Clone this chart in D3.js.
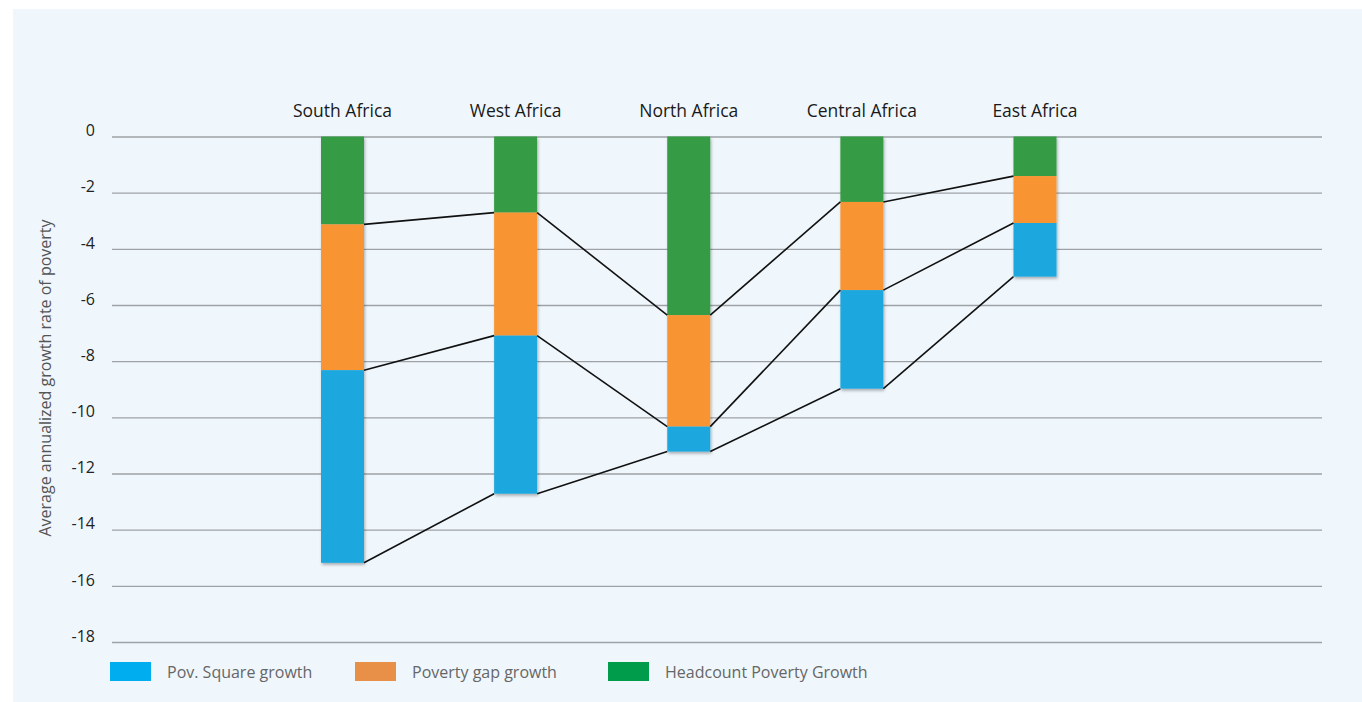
<!DOCTYPE html>
<html>
<head>
<meta charset="utf-8">
<script src="https://cdn.jsdelivr.net/npm/d3@7"></script>
<style>
  html, body { margin: 0; padding: 0; background: #ffffff; }
  svg { display: block; }
</style>
</head>
<body>
<svg id="chart" width="1362" height="702"></svg>
<script>
// ---- Data ----
const categories = ["South Africa", "West Africa", "North Africa", "Central Africa", "East Africa"];
const headcountGrowth = [-3.13, -2.71, -6.36, -2.33, -1.41];
const povertyGapGrowth = [-5.19, -4.38, -3.97, -3.14, -1.67];
const povSquareGrowth = [-6.86, -5.63, -0.89, -3.51, -1.91];
const yTicks = [0, -2, -4, -6, -8, -10, -12, -14, -16, -18];
const yTickLabels = ["0", "-2", "-4", "-6", "-8", "-10", "-12", "-14", "-16", "-18"];
const seriesKeys = ["headcount", "gap", "square"];
const legendLabels = ["Pov. Square growth", "Poverty gap growth", "Headcount Poverty Growth"];
const legendKeys = ["square", "gap", "headcount"];

// ---- Styles ----
const barColors = { headcount: "#359b45", gap: "#f89531", square: "#1ca8df" };
const legendColors = { square: "#00aeef", gap: "#e88f48", headcount: "#009b4b" };
const fontFamily = "'Open Sans', 'Noto Sans', sans-serif";

const svg = d3.select("#chart");

// drop shadow filter
const defs = svg.append("defs");
const f = defs.append("filter").attr("id", "shadow").attr("x", "-30%").attr("y", "-10%").attr("width", "160%").attr("height", "130%");
f.append("feDropShadow").attr("dx", 1).attr("dy", 2).attr("stdDeviation", 1.8).attr("flood-color", "#000").attr("flood-opacity", 0.3);

// background panel
svg.append("rect").attr("x", 13).attr("y", 9).attr("width", 1349).attr("height", 693).attr("fill", "#eff7fd");

const table = categories.map((c, i) => ({
  cat: c,
  headcount: headcountGrowth[i],
  gap: povertyGapGrowth[i],
  square: povSquareGrowth[i]
}));

const y = d3.scaleLinear().domain([0, -18]).range([136.5, 642]);
const x = d3.scalePoint().domain(categories).range([342.5, 1035]);
const barW = 43;

// gridlines + tick labels
const yAxis = d3.axisLeft(y).tickValues(yTicks).tickSize(0).tickPadding(0)
  .tickFormat((d, i) => yTickLabels[i]);
const gAxis = svg.append("g").attr("transform", "translate(95,0)").call(yAxis);
gAxis.select(".domain").remove();
gAxis.selectAll("text")
  .attr("font-family", fontFamily).attr("font-size", 16).attr("fill", "#222")
  .attr("dy", "-0.05em");

const grid = d3.axisLeft(y).tickValues(yTicks).tickSize(-(1322 - 112)).tickFormat("");
const gGrid = svg.append("g").attr("transform", "translate(112,0)").call(grid);
gGrid.select(".domain").remove();
gGrid.selectAll("line").attr("stroke", "#9ea2a6").attr("stroke-width", 1.3);

// y title
svg.append("text")
  .attr("transform", "translate(51,378) rotate(-90)")
  .attr("text-anchor", "middle")
  .attr("font-family", fontFamily).attr("font-size", 16).attr("fill", "#555")
  .text("Average annualized growth rate of poverty");

// category labels
svg.append("g").selectAll("text").data(categories).join("text")
  .attr("x", d => x(d)).attr("y", 117)
  .attr("text-anchor", "middle")
  .attr("font-family", fontFamily).attr("font-size", 17.5).attr("fill", "#1a1a1a")
  .text(d => d);

// stacked bars
const stack = d3.stack().keys(seriesKeys).offset(d3.stackOffsetDiverging);
const stacked = stack(table);

const gBars = svg.append("g").attr("filter", "url(#shadow)");
stacked.forEach(layer => {
  gBars.append("g").selectAll("rect").data(layer).join("rect")
    .attr("x", d => x(d.data.cat) - barW / 2)
    .attr("width", barW)
    .attr("y", d => y(Math.max(d[0], d[1])))
    .attr("height", d => Math.abs(y(d[1]) - y(d[0])))
    .attr("fill", barColors[layer.key]);
});

// connector lines at each cumulative boundary
const gLines = svg.append("g");
stacked.forEach(layer => {
  for (let i = 0; i < layer.length - 1; i++) {
    const a = layer[i], b = layer[i + 1];
    gLines.append("line")
      .attr("x1", x(a.data.cat) + barW / 2).attr("y1", y(a[0]))
      .attr("x2", x(b.data.cat) - barW / 2).attr("y2", y(b[0]))
      .attr("stroke", "#111").attr("stroke-width", 1.6);
  }
});

// legend
const legendX = [110, 355, 608];
const gLeg = svg.append("g");
legendKeys.forEach((k, i) => {
  gLeg.append("rect").attr("x", legendX[i]).attr("y", 662).attr("width", 41).attr("height", 19).attr("fill", legendColors[k]);
  gLeg.append("text").attr("x", legendX[i] + 57).attr("y", 677.5)
    .attr("font-family", fontFamily).attr("font-size", 16).attr("fill", "#666")
    .text(legendLabels[i]);
});
</script>
</body>
</html>
